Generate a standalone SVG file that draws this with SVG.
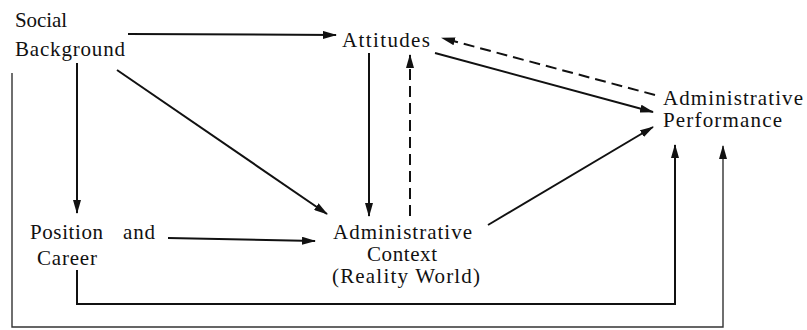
<svg xmlns="http://www.w3.org/2000/svg" width="807" height="330" viewBox="0 0 807 330">
<defs>
<style>
text{font-family:"Liberation Serif","DejaVu Serif",serif;font-size:21px;fill:#111}
.c{fill:none;stroke:#111;stroke-width:2}
.d{stroke-dasharray:11 6}
.t{stroke-width:1.4;stroke:#333}
</style>
<marker id="ah" viewBox="0 0 14 8" refX="13" refY="4" markerWidth="14" markerHeight="8" orient="auto" markerUnits="userSpaceOnUse">
<path d="M0,0 L14,4 L0,8 Z" fill="#111"/>
</marker>
</defs>
<rect width="807" height="330" fill="#fff"/>
<g id="connectors">
<line class="c" x1="128" y1="34" x2="336" y2="35" marker-end="url(#ah)"/>
<line class="c" x1="77" y1="63" x2="77" y2="213" marker-end="url(#ah)"/>
<line class="c" x1="117" y1="70" x2="327" y2="214" marker-end="url(#ah)"/>
<line class="c" x1="369" y1="53" x2="369" y2="216" marker-end="url(#ah)"/>
<line class="c d" x1="410" y1="216" x2="410" y2="55" marker-end="url(#ah)"/>
<line class="c" x1="435" y1="53" x2="653" y2="112" marker-end="url(#ah)"/>
<line class="c d" x1="655" y1="95" x2="442" y2="38" marker-end="url(#ah)"/>
<line class="c" x1="168" y1="238" x2="315" y2="241" marker-end="url(#ah)"/>
<line class="c" x1="488" y1="225" x2="653" y2="127" marker-end="url(#ah)"/>
<polyline class="c" points="77,270 77,304 675,304 675,145" marker-end="url(#ah)"/>
<polyline class="c t" points="12,73 12,327 723,327 723,146" marker-end="url(#ah)"/>
</g>
<g id="social-background">
<text x="15" y="27" textLength="52" lengthAdjust="spacing">Social</text>
<text x="15" y="56" textLength="110" lengthAdjust="spacing">Background</text>
</g>
<g id="attitudes">
<text x="342" y="47" textLength="88" lengthAdjust="spacing">Attitudes</text>
</g>
<g id="administrative-performance">
<text x="663" y="105" textLength="140" lengthAdjust="spacing">Administrative</text>
<text x="663" y="127" textLength="119" lengthAdjust="spacing">Performance</text>
</g>
<g id="position-career">
<text x="30" y="239"><tspan textLength="73" lengthAdjust="spacing">Position</tspan> <tspan x="123" textLength="32" lengthAdjust="spacing">and</tspan></text>
<text x="37" y="265" textLength="60" lengthAdjust="spacing">Career</text>
</g>
<g id="administrative-context">
<text x="333" y="239" textLength="139" lengthAdjust="spacing">Administrative</text>
<text x="367" y="261" textLength="70" lengthAdjust="spacing">Context</text>
<text x="332" y="283" textLength="148" lengthAdjust="spacing">(Reality World)</text>
</g>
</svg>
